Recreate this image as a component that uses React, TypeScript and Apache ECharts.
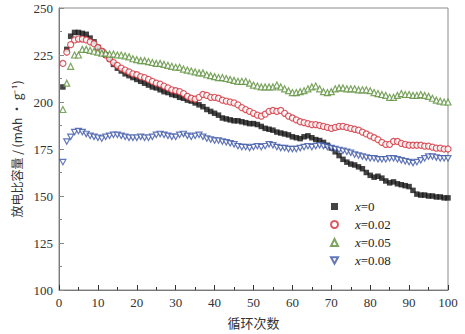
import React, { useEffect, useRef } from "react";
import * as echarts from "echarts";

const seriesNames = ["x=0", "x=0.02", "x=0.05", "x=0.08"];
const xTicks = [0, 10, 20, 30, 40, 50, 60, 70, 80, 90, 100];
const yTicks = [100, 125, 150, 175, 200, 225, 250];

const capX0 = [
  208, 228, 235, 237, 237, 236.5, 236, 234, 232, 229,
  227, 225, 223, 220, 218, 216.5, 215, 214, 213, 212,
  211, 210, 209, 208, 207.5, 206.5, 205.5, 205, 204, 203.5,
  202.5, 202, 201, 200.5, 199.5, 198.5, 197.5, 196, 195, 194,
  193, 191.5, 191, 190.5, 190, 190, 189.5, 189, 188.5, 188.5,
  188, 187, 186, 185.5, 185, 184, 183.5, 183, 182.5, 181.5,
  181, 180.5, 181.5, 182, 181, 180, 179.5, 178.5, 177, 175.5,
  173.5, 171.5, 169.5, 168, 167, 166.5, 165.5, 164.5, 162.5, 161,
  160, 160.5, 159.5, 158, 157, 157.5, 156.5, 156, 155.5, 155,
  153, 151, 150.5, 150.5, 150, 150, 149.5, 149.5, 149, 149,
];

const capX002 = [
  220.5, 226.5, 230.5, 233, 233.5, 233.5, 233, 232, 231, 229,
  227, 225, 223, 221, 219.5, 218, 217, 216, 215, 214.5,
  213.5, 213, 212, 211, 210, 209.5, 208.5, 207.5, 206.5, 206,
  205.5, 204.5, 203, 202, 201.5, 202.5, 204, 203.5, 202.5, 202.5,
  202, 201, 200.5, 200, 199.5, 198.5, 197, 196, 195, 194,
  193, 192.5, 193.5, 195, 195.5, 195, 195.5, 194, 192.5, 191.5,
  190.5, 189.5, 189, 188.5, 188, 188, 187.5, 187, 186.5, 186,
  186.5, 187, 187, 186.5, 186, 185.5, 185, 184, 183, 182,
  181, 180, 178.5, 177.5, 177.5, 179, 179, 178, 177.5, 177,
  177, 177, 177, 176.5, 176.5, 176, 175.5, 175.5, 175, 175,
];

const capX005 = [
  196, 210, 219, 225, 225, 228, 228, 227.5, 227, 226.5,
  226, 226, 225.5, 225.5, 225, 225, 224.5, 224, 223, 222.5,
  222, 222, 221.5, 221, 220.5, 220.5, 220, 219.5, 219, 218.5,
  218.5, 217.5, 217, 216.5, 216, 215.5, 215.5, 214.5, 214, 213.5,
  213, 213, 212.5, 212, 211.5, 211, 211, 211, 210, 209,
  208.5, 208, 208, 208, 208, 209, 208, 207, 206, 205,
  205, 205.5, 206, 207, 208, 208.5, 207, 205.5, 205, 205.5,
  207, 207.5, 207.5, 207, 207, 207, 206.5, 206.5, 206.5, 206,
  205, 204.5, 204, 203.5, 202.5, 202.5, 203.5, 204.5, 204, 204,
  203.5, 203.5, 204, 203.5, 203, 202, 201, 200.5, 200, 200,
];

const capX008 = [
  168, 179, 181.5, 184, 184.5, 184, 183, 182, 181.5, 181,
  180.5, 181.5, 182, 182.5, 182.5, 182, 181.5, 181, 181, 181,
  181.5, 181, 181, 181.5, 182.5, 183, 182.5, 182, 181.5, 181.5,
  182.5, 183, 182, 181.5, 182, 182.5, 181.5, 180.5, 180, 179.5,
  179.5, 179, 178.5, 178, 177.5, 176.5, 176, 176, 175.5, 176,
  176.5, 176, 176.5, 177.5, 177, 176, 175.5, 175.5, 175, 175,
  175, 175.5, 176, 176.5, 176, 176.5, 177, 176.5, 176, 175.5,
  175, 174.5, 174, 173.5, 173, 172, 171.5, 171, 170.5, 170,
  170, 169.5, 169.5, 169.5, 170, 170, 169.5, 169, 168.5, 168,
  167.5, 168, 169, 170, 171, 171, 170.5, 170, 170, 170,
];

const colors = ["#141414", "#d2323c", "#5b8f3a", "#3b55a8"];
const symbols = [
  "rect",
  "circle",
  "triangle",
  "path://M0,0 L10,0 L5,9 Z",
];
const allData = [capX0, capX002, capX005, capX008];

export default function App() {
  const ref = useRef<HTMLDivElement>(null);
  useEffect(() => {
    if (!ref.current) return;
    const chart = echarts.init(ref.current, null, { renderer: "svg" });
    const serif = "'Liberation Serif', 'Times New Roman', serif";
    const cjk = "'Noto Sans CJK SC', sans-serif";
    const axisGray = "#7a7a7a";
    chart.setOption({
      animation: false,
      backgroundColor: "#ffffff",
      grid: {
        left: 59,
        right: 17,
        top: 8,
        bottom: 43,
        show: true,
        borderColor: "#8a8a8a",
        borderWidth: 1,
      },
      legend: {
        orient: "vertical",
        left: 325,
        top: 195,
        itemWidth: 7,
        itemHeight: 7,
        itemGap: 5,
        data: seriesNames,
        textStyle: {
          fontFamily: serif,
          fontSize: 13,
          color: "#222",
          padding: [0, 0, 0, 12],
          rich: {
            i: { fontFamily: serif, fontSize: 13, fontStyle: "italic", color: "#222" },
            n: { fontFamily: serif, fontSize: 13, color: "#222" },
          },
        },
        formatter: (name: string) => `{i|x}{n|${name.slice(1)}}`,
      },
      xAxis: {
        type: "value",
        min: xTicks[0],
        max: xTicks[xTicks.length - 1],
        interval: 10,
        name: "循环次数",
        nameLocation: "middle",
        nameGap: 26,
        nameTextStyle: { fontFamily: cjk, fontSize: 13, color: "#333" },
        axisLine: { show: true, lineStyle: { color: axisGray, width: 1 } },
        axisTick: { show: true, inside: true, length: 5, lineStyle: { color: "#333" } },
        minorTick: { show: true, splitNumber: 2, length: 3, lineStyle: { color: "#333" } },
        axisLabel: { fontFamily: serif, fontSize: 13, color: "#333", margin: 6 },
        splitLine: { show: false },
      },
      yAxis: {
        type: "value",
        min: yTicks[0],
        max: yTicks[yTicks.length - 1],
        interval: 25,
        name: "放电比容量 / (mAh • g⁻¹)",
        nameLocation: "middle",
        nameGap: 31,
        nameRotate: 90,
        nameTextStyle: { fontFamily: cjk, fontSize: 12, color: "#333" },
        axisLine: { show: true, lineStyle: { color: axisGray, width: 1 } },
        axisTick: { show: true, inside: true, length: 5, lineStyle: { color: "#888" } },
        minorTick: { show: true, splitNumber: 2, length: 3, lineStyle: { color: "#888" } },
        axisLabel: { fontFamily: serif, fontSize: 13, color: "#333", margin: 6 },
        splitLine: { show: false },
      },
      series: allData.map((arr, k) => ({
        name: seriesNames[k],
        type: "scatter",
        symbol: symbols[k],
        symbolSize: k === 0 ? 5.5 : 6,
        symbolKeepAspect: true,
        itemStyle:
          k === 0
            ? { color: colors[0] }
            : { color: "#ffffff", borderColor: colors[k], borderWidth: 1.2 },
        data: arr.map((v, i) => [i + 1, v]),
        z: 2 + k,
      })),
    });
    return () => chart.dispose();
  }, []);
  return (
    <div
      ref={ref}
      style={{ width: 465, height: 334, position: "fixed", left: 0, top: 0 }}
    />
  );
}
